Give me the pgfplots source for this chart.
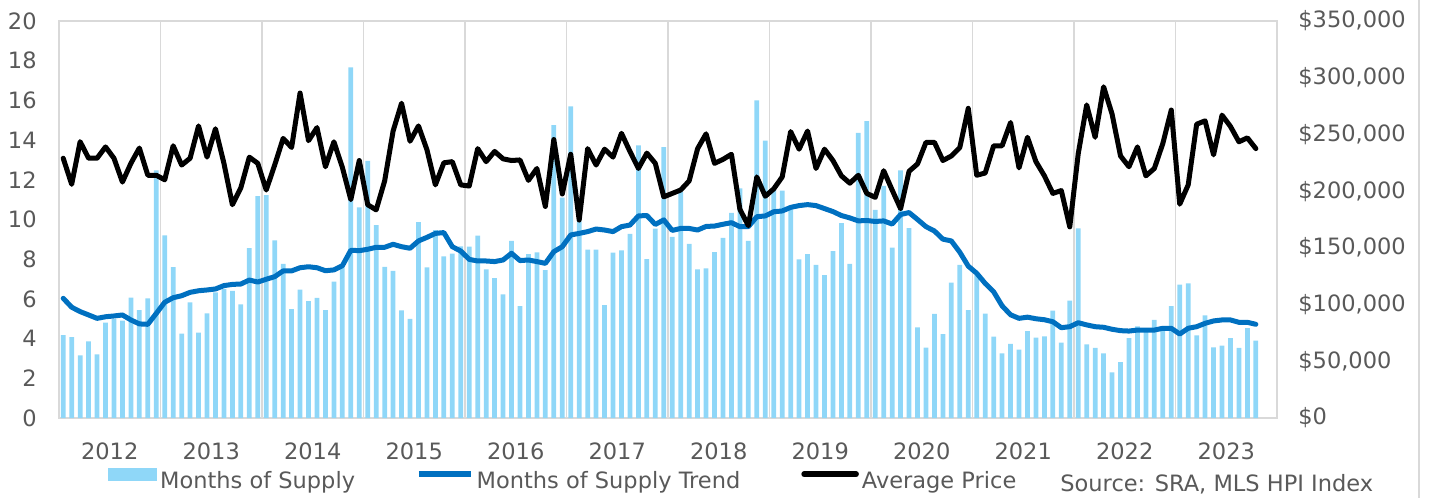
\documentclass[border=0pt]{standalone}
\usepackage{pgfplots}
\usepackage{pgfplotstable}
\pgfplotsset{compat=1.18}
\usepackage{fontspec}
\setmainfont{DejaVu Sans}
\definecolor{barblue}{HTML}{8FD7F8}
\definecolor{trendblue}{HTML}{0070C0}
\definecolor{gridgray}{HTML}{D9D9D9}
\definecolor{txtgray}{HTML}{595959}
\newcommand{\chartfont}{\fontsize{11.25}{13}\selectfont}

\pgfplotstableread{
i mos trend price
0 4.18 6.03 229000
1 4.08 5.58 206000
2 3.16 5.36 243600
3 3.86 5.19 229000
4 3.21 5.02 229000
5 4.80 5.10 239000
6 5.00 5.14 229000
7 4.90 5.19 208000
8 6.06 4.94 224500
9 5.44 4.74 238000
10 6.03 4.72 214000
11 12.47 5.27 214000
12 9.20 5.83 210000
13 7.60 6.06 240000
14 4.25 6.16 223000
15 5.83 6.33 229000
16 4.30 6.41 257500
17 5.27 6.45 230000
18 6.33 6.50 255000
19 6.50 6.67 224500
20 6.40 6.73 188000
21 5.73 6.75 203000
22 8.56 6.95 230000
23 11.18 6.85 224500
24 11.23 6.99 201000
25 8.95 7.12 223000
26 7.76 7.41 246500
27 5.49 7.41 238500
28 6.47 7.57 286500
29 5.89 7.62 244500
30 6.05 7.57 256000
31 5.44 7.42 221500
32 6.87 7.46 243500
33 7.60 7.67 221000
34 17.67 8.45 192500
35 10.61 8.43 227000
36 12.95 8.50 188000
37 9.72 8.60 183500
38 7.61 8.60 209000
39 7.41 8.75 253000
40 5.42 8.63 277500
41 4.99 8.55 244000
42 9.87 8.92 257500
43 7.59 9.10 236500
44 9.47 9.30 205500
45 8.14 9.34 225000
46 8.28 8.63 226000
47 8.65 8.41 205500
48 8.63 7.99 204500
49 9.19 7.91 237500
50 7.49 7.91 226000
51 7.05 7.88 235000
52 6.23 7.96 228500
53 8.92 8.30 227000
54 5.64 7.93 227500
55 8.26 7.96 209500
56 8.35 7.88 220000
57 7.45 7.79 186500
58 14.76 8.38 245500
59 11.10 8.63 197500
60 15.70 9.22 232500
61 9.90 9.30 174500
62 8.48 9.39 237500
63 8.48 9.52 223000
64 5.69 9.47 237000
65 8.33 9.39 230000
66 8.45 9.64 251000
67 9.27 9.72 235000
68 13.74 10.18 220000
69 8.01 10.20 233500
70 9.54 9.75 224500
71 13.65 9.98 195000
72 9.12 9.45 198000
73 11.40 9.55 201000
74 8.77 9.55 209000
75 7.49 9.47 237500
76 7.54 9.65 250500
77 8.36 9.67 224500
78 9.08 9.76 228000
79 10.33 9.84 232500
80 11.57 9.64 184000
81 8.92 9.64 169500
82 16.00 10.14 212500
83 13.97 10.18 195500
84 11.50 10.39 202000
85 11.45 10.43 212500
86 10.50 10.61 252500
87 7.99 10.70 237000
88 8.26 10.75 253000
89 7.72 10.70 220000
90 7.20 10.55 237000
91 8.41 10.40 227000
92 9.82 10.20 213500
93 7.76 10.08 207000
94 14.36 9.93 214000
95 14.96 9.95 198000
96 10.48 9.90 194500
97 11.70 9.93 218000
98 8.58 9.77 201000
99 12.48 10.25 184500
100 9.57 10.35 217500
101 4.57 10.00 224000
102 3.54 9.64 243000
103 5.24 9.42 243000
104 4.23 9.01 227000
105 6.82 8.92 231000
106 7.71 8.35 238500
107 5.44 7.65 273000
108 7.20 7.29 214000
109 5.26 6.78 216000
110 4.10 6.36 240000
111 3.26 5.65 240000
112 3.73 5.20 260500
113 3.44 5.02 220500
114 4.38 5.08 247500
115 4.05 5.00 226000
116 4.11 4.95 213500
117 5.41 4.85 198000
118 3.80 4.55 200500
119 5.91 4.60 168500
120 9.55 4.80 233000
121 3.71 4.69 276000
122 3.53 4.60 247500
123 3.26 4.57 292000
124 2.30 4.47 268000
125 2.82 4.40 231000
126 4.03 4.38 221500
127 4.62 4.43 239000
128 4.35 4.43 213500
129 4.94 4.43 220000
130 4.60 4.52 242000
131 5.63 4.52 271500
132 6.72 4.23 188500
133 6.78 4.52 205500
134 4.16 4.60 259000
135 5.17 4.77 262000
136 3.56 4.89 232000
137 3.64 4.94 267000
138 4.03 4.94 257000
139 3.53 4.82 243500
140 4.53 4.82 247000
141 3.90 4.72 237500
}\datatable

\begin{document}
\begin{tikzpicture}
\path[use as bounding box] (-29.5pt,-40pt) rectangle (685.5pt,209pt);
\begin{axis}[
  at={(0pt,0pt)}, anchor=south west,
  scale only axis, width=609pt, height=198.5pt,
  xmin=-0.5, xmax=143.5, ymin=0, ymax=20,
  ytick={0,2,...,20},
  xtick={5.5,17.5,29.5,41.5,53.5,65.5,77.5,89.5,101.5,113.5,125.5,137.5},
  xticklabels={2012,2013,2014,2015,2016,2017,2018,2019,2020,2021,2022,2023},
  extra x ticks={11.5,23.5,35.5,47.5,59.5,71.5,83.5,95.5,107.5,119.5,131.5},
  extra x tick labels={},
  extra x tick style={grid=major},
  major grid style={gridgray, line width=0.75pt},
  major tick length=0pt,
  axis line style={gridgray, line width=0.75pt},
  ytick pos=left, xtick pos=bottom,
  tick label style={font=\chartfont, text=txtgray},
  /pgf/number format/assume math mode=true,
  xticklabel style={anchor=north, inner sep=0pt, yshift=-12pt},
  yticklabel style={anchor=east, inner sep=0pt, xshift=-11pt},
  clip=false,
]
\addplot[ybar, bar width=0.56, fill=barblue, draw=none, bar shift=0pt] table[x=i, y=mos] {\datatable};
\addplot[trendblue, line width=2.5pt, line join=round, line cap=round, no marks] table[x=i, y=trend] {\datatable};
\end{axis}
\begin{axis}[
  at={(0pt,0pt)}, anchor=south west,
  scale only axis, width=609pt, height=198.5pt,
  xmin=-0.5, xmax=143.5, ymin=0, ymax=350000,
  axis x line=none,
  axis y line*=right,
  y axis line style={draw=none},
  major tick length=0pt,
  ytick={0,50000,100000,150000,200000,250000,300000,350000},
  yticklabels={\$0,{\$50,000},{\$100,000},{\$150,000},{\$200,000},{\$250,000},{\$300,000},{\$350,000}},
  tick label style={font=\chartfont, text=txtgray},
  yticklabel style={anchor=west, inner sep=0pt, xshift=10.5pt},
  scaled y ticks=false,
  legend columns=3,
  legend style={at={(0.0402,-0.1587)}, anchor=west, draw=none, fill=none, inner sep=0pt,
    font=\chartfont, text=txtgray, nodes={inner sep=1.5pt},
    /tikz/every even column/.append style={column sep=29pt}},
  legend cell align=left,
  clip=false,
]
\addlegendimage{legend image code/.code={\fill[barblue] (0pt,0.5pt) rectangle (24pt,6.5pt);}}
\addlegendentry{Months of Supply}
\addlegendimage{legend image code/.code={\draw[trendblue, line width=2.8pt] (0pt,3.5pt) -- (26pt,3.5pt);}}
\addlegendentry{Months of Supply Trend}
\addplot[black, line width=2.5pt, line join=round, line cap=round, no marks,
  legend image code/.code={\draw[black, line width=2.8pt] (0pt,3.5pt) -- (26pt,3.5pt);}] table[x=i, y=price] {\datatable};
\addlegendentry{Average Price}
\end{axis}
\draw[gridgray, line width=0.75pt] (680pt,-40pt) -- (680pt,209pt);
\node[anchor=base west, font=\chartfont, text=txtgray, inner sep=0pt] at (500.5pt,-37pt) {Source: SRA, MLS HPI Index};
\end{tikzpicture}
\end{document}
